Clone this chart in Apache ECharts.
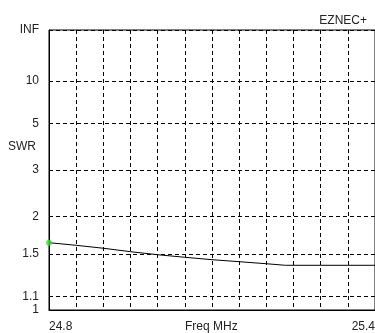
<!DOCTYPE html>
<html>
<head>
<meta charset="utf-8">
<script src="https://cdn.jsdelivr.net/npm/echarts@6/dist/echarts.min.js"></script>
<style>
  html, body { margin: 0; padding: 0; background: #fff; }
  #chart { width: 375px; height: 333px; }
</style>
</head>
<body>
<div id="chart"></div>
<script>
// frequency points (MHz) and SWR
const freqs = [24.8, 24.85, 24.9, 24.95, 25.0, 25.05, 25.1, 25.15, 25.2, 25.235, 25.3, 25.35, 25.4];
const swr = [1.633, 1.601, 1.566, 1.526, 1.492, 1.464, 1.438, 1.417, 1.396, 1.38, 1.38, 1.38, 1.38];

// SWR tick labels (y axis is linear in reflection coefficient)
const swrTicks = ["INF", 10, 5, 3, 2, 1.5, 1.1, 1];
const freqLabels = [24.8, 25.4];

const toRho = (s) => (s === "INF" ? 1 : (s - 1) / (s + 1));
const rhoTicks = swrTicks.map(toRho);

const lineData = freqs.map((f, i) => [f, toRho(swr[i])]);

const font = "Liberation Sans, Arial, sans-serif";
const txt = "#222";

const chart = echarts.init(document.getElementById("chart"));
chart.setOption({
  animation: false,
  title: {
    text: "EZNEC+",
    right: 3,
    top: 10,
    textStyle: { fontSize: 12, fontWeight: "normal", color: txt, fontFamily: font },
  },
  graphic: [
    {
      type: "text",
      left: 8,
      top: 141,
      style: { text: "SWR", fontSize: 12, fill: txt, fontFamily: font },
    },
    {
      type: "text",
      left: 185,
      top: 321,
      style: { text: "Freq MHz", fontSize: 12, fill: txt, fontFamily: font },
    },
  ],
  grid: {
    left: 49,
    right: 0,
    top: 30,
    bottom: 23,
    outerBoundsMode: "none",
    containLabel: false,
    show: true,
    borderColor: "#000",
    borderWidth: 1,
  },
  xAxis: {
    type: "value",
    min: 24.8,
    max: 25.4,
    interval: 0.05,
    axisLine: { lineStyle: { color: "#000", width: 1 } },
    axisTick: { show: false },
    axisLabel: {
      customValues: freqLabels,
      formatter: (v) => v.toFixed(1),
      margin: 11,
      fontSize: 12,
      color: txt,
      fontFamily: font,
      alignMinLabel: "left",
      alignMaxLabel: "right",
    },
    splitLine: {
      show: true,
      lineStyle: { color: "#000", type: [4, 3], width: 1 },
    },
  },
  yAxis: {
    type: "value",
    min: 0,
    max: 1,
    axisLine: { show: true, lineStyle: { color: "#000", width: 1 } },
    axisTick: { show: false, customValues: rhoTicks },
    axisLabel: {
      customValues: rhoTicks,
      formatter: (v) => {
        let best = 0;
        rhoTicks.forEach((r, i) => {
          if (Math.abs(r - v) < Math.abs(rhoTicks[best] - v)) best = i;
        });
        return String(swrTicks[best]);
      },
      margin: 10,
      fontSize: 12,
      color: txt,
      fontFamily: font,
    },
    splitLine: {
      show: true,
      lineStyle: { color: "#000", type: [4, 3], width: 1 },
    },
  },
  series: [
    {
      type: "line",
      data: lineData,
      showSymbol: false,
      lineStyle: { color: "#000", width: 1 },
      z: 3,
    },
    {
      type: "scatter",
      data: [lineData[0]],
      symbol: "circle",
      symbolSize: 6,
      itemStyle: { color: "#33dd33" },
      z: 4,
    },
  ],
});
</script>
</body>
</html>
